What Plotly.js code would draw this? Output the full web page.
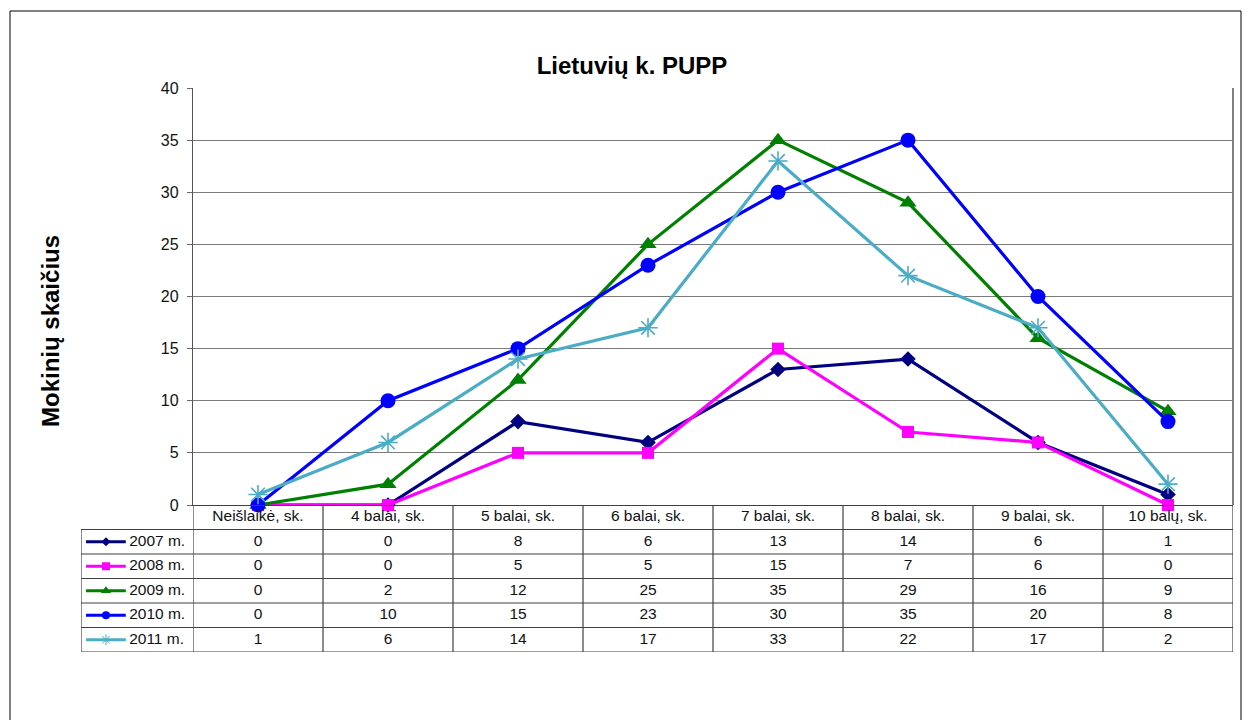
<!DOCTYPE html>
<html>
<head>
<meta charset="utf-8">
<script src="https://cdn.plot.ly/plotly-3.0.1.min.js"></script>
<style>html,body{margin:0;padding:0;background:#fff;}#chart{width:1246px;height:720px;}</style>
</head>
<body>
<div id="chart"></div>
<script>
// ---------- data ----------
const categories = ['Neišlaikė, sk.', '4 balai, sk.', '5 balai, sk.', '6 balai, sk.', '7 balai, sk.', '8 balai, sk.', '9 balai, sk.', '10 balų, sk.'];
const seriesNames = ['2007 m.', '2008 m.', '2009 m.', '2010 m.', '2011 m.'];
const v2007 = [0, 0, 8, 6, 13, 14, 6, 1];
const v2008 = [0, 0, 5, 5, 15, 7, 6, 0];
const v2009 = [0, 2, 12, 25, 35, 29, 16, 9];
const v2010 = [0, 10, 15, 23, 30, 35, 20, 8];
const v2011 = [1, 6, 14, 17, 33, 22, 17, 2];
const yTicks = [0, 5, 10, 15, 20, 25, 30, 35, 40];
const chartTitle = 'Lietuvių k. PUPP';
const yTitle = 'Mokinių skaičius';

// ---------- styles ----------
const seriesValues = [v2007, v2008, v2009, v2010, v2011];
const styles = [
  {color: '#000080', symbol: 'diamond', size: 12, key: 7},
  {color: '#FF00FF', symbol: 'square', size: 12, key: 8},
  {color: '#008000', symbol: 'triangle-up', size: 15, key: 9},
  {color: '#0000FF', symbol: 'circle', size: 15, key: 8},
  {color: '#4BACC6', symbol: 'asterisk-open', size: 16, key: 9}
];
const FONT = 'Liberation Sans, Arial, sans-serif';
const TXT = 15.5;
const W = 1246, H = 720;
const px = v => v / W;
const py = v => 1 - v / H;
const plotL = 193, plotR = 1233, plotT = 88, plotB = 505, tabB = 652, tabL = 81;
const tableLine = {color: '#404040', width: 1.2};

const data = [];
// chart lines
seriesValues.forEach((vals, k) => {
  const s = styles[k];
  data.push({
    type: 'scatter', mode: 'lines+markers', name: seriesNames[k],
    x: categories, y: vals, xaxis: 'x', yaxis: 'y', cliponaxis: false,
    line: {color: s.color, width: 3.2},
    marker: {symbol: s.symbol, size: s.size, color: s.color,
             line: {color: s.color, width: s.symbol === 'asterisk-open' ? 1.6 : 0}}
  });
});
// table header row (category labels)
data.push({
  type: 'scatter', mode: 'text', x: categories, y: categories.map(() => 0),
  text: categories, xaxis: 'x', yaxis: 'y2', cliponaxis: false,
  textfont: {family: FONT, size: TXT, color: '#111'}
});
// table values
seriesValues.forEach((vals, k) => {
  data.push({
    type: 'scatter', mode: 'text', x: categories, y: vals.map(() => k + 1),
    text: vals.map(String), xaxis: 'x', yaxis: 'y2', cliponaxis: false,
    textfont: {family: FONT, size: TXT, color: '#111'}
  });
});
// legend keys inside table
seriesValues.forEach((vals, k) => {
  const s = styles[k];
  data.push({
    type: 'scatter', mode: 'lines+markers', x: [0.045, 0.223, 0.40], y: [k + 1, k + 1, k + 1],
    xaxis: 'x2', yaxis: 'y2', cliponaxis: false,
    line: {color: s.color, width: 3.2},
    marker: {symbol: s.symbol, size: [0, s.key, 0], opacity: [0, 1, 0], color: s.color,
             line: {color: s.color, width: s.symbol === 'asterisk-open' ? 1 : 0}}
  });
});
// series labels
data.push({
  type: 'scatter', mode: 'text', x: seriesNames.map(() => 0.43), y: seriesNames.map((n, k) => k + 1),
  text: seriesNames, textposition: 'middle right', xaxis: 'x2', yaxis: 'y2', cliponaxis: false,
  textfont: {family: FONT, size: TXT, color: '#111'}
});

// table grid shapes
const shapes = [];
const nRows = seriesNames.length + 1;
for (let r = 0; r < nRows; r++) {
  shapes.push({type: 'line', xref: 'x', yref: 'y2', x0: -0.5, x1: categories.length - 0.5, y0: r + 0.5, y1: r + 0.5, line: tableLine});
  shapes.push({type: 'line', xref: 'x2', yref: 'y2', x0: 0, x1: 1, y0: r + 0.5, y1: r + 0.5, line: tableLine});
}
for (let i = 0; i <= categories.length; i++) {
  shapes.push({type: 'line', xref: 'x', yref: 'y2', x0: i - 0.5, x1: i - 0.5, y0: -0.5, y1: nRows - 0.5, line: tableLine});
}
shapes.push({type: 'line', xref: 'x2', yref: 'y2', x0: 0, x1: 0, y0: 0.5, y1: nRows - 0.5, line: tableLine});
// plot-area right border
shapes.push({type: 'line', xref: 'x domain', yref: 'y domain', x0: 1, x1: 1, y0: 0, y1: 1, line: {color: '#808080', width: 2}});
// outer chart frame
shapes.push({type: 'rect', xref: 'paper', yref: 'paper', x0: px(10), x1: px(1241), y0: -0.05, y1: py(11), line: {color: '#000', width: 1}, layer: 'below'});

const layout = {
  width: W, height: H,
  margin: {l: 0, r: 0, t: 0, b: 0},
  paper_bgcolor: '#fff', plot_bgcolor: '#fff',
  showlegend: false, hovermode: false,
  font: {family: FONT, size: TXT, color: '#111'},
  title: {text: '<b>' + chartTitle + '</b>', x: px(632), xanchor: 'center', xref: 'paper',
          y: py(66), yanchor: 'middle', yref: 'paper', font: {family: FONT, size: 24, color: '#000'}},
  xaxis: {type: 'category', domain: [px(plotL), px(plotR)], range: [-0.5, categories.length - 0.5],
          anchor: 'y', showticklabels: false, ticks: '', showgrid: false, zeroline: false,
          showline: true, linecolor: '#404040', linewidth: 1.2},
  yaxis: {domain: [py(plotB), py(plotT)], range: [0, 40], anchor: 'x', tickvals: yTicks,
          ticks: 'outside', ticklen: 5, tickcolor: '#666', showgrid: true, gridcolor: '#7a7a7a',
          gridwidth: 1.2, zeroline: false, showline: true, linecolor: '#555', linewidth: 1.2,
          ticklabelstandoff: 5,
          tickfont: {family: FONT, size: 16, color: '#111'}},
  yaxis2: {domain: [py(tabB), py(plotB)], range: [nRows - 0.5, -0.5], anchor: 'x', visible: false},
  xaxis2: {domain: [px(tabL), px(plotL)], range: [0, 1], anchor: 'y2', visible: false},
  annotations: [{
    text: '<b>' + yTitle + '</b>', textangle: -90, xref: 'paper', yref: 'paper',
    x: px(51), y: py(331), xanchor: 'center', yanchor: 'middle', showarrow: false,
    font: {family: FONT, size: 24, color: '#000'}
  }],
  shapes: shapes
};

Plotly.newPlot('chart', data, layout, {displayModeBar: false, staticPlot: true});
</script>
</body>
</html>
